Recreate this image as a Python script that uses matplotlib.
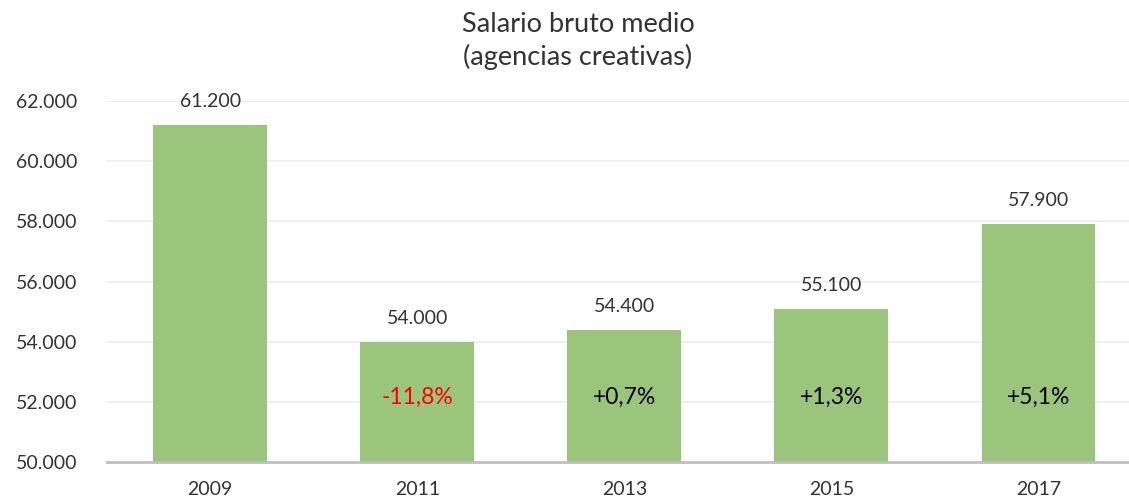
import matplotlib.pyplot as plt
import matplotlib.ticker as mticker

years = ['2009', '2011', '2013', '2015', '2017']
salario = [61200, 54000, 54400, 55100, 57900]
variacion = ['', '-11,8%', '+0,7%', '+1,3%', '+5,1%']
var_colors = ['black', '#ff0000', 'black', 'black', 'black']

plt.rcParams['font.family'] = ['Lato', 'DejaVu Sans']

fig = plt.figure(figsize=(11.29, 5.01), dpi=100)
ax = fig.add_axes([0.0945, 0.078, 0.917, 0.720])

x = range(len(years))
ax.bar(x, salario, width=0.55, color='#9bc47c', zorder=2)

for i, v in enumerate(salario):
    label = '{:,}'.format(v).replace(',', '.')
    ax.annotate(label, (i, v), xytext=(0, 17), textcoords='offset points',
                ha='center', va='center', fontsize=14, color='#333333')
    if variacion[i]:
        ax.text(i, 52150, variacion[i], ha='center', va='center',
                fontsize=16.5, color=var_colors[i], zorder=3)

ax.set_ylim(50000, 62000)
ax.set_xlim(-0.5, len(years) - 0.5)
ax.yaxis.set_major_locator(mticker.MultipleLocator(2000))
ax.yaxis.set_major_formatter(mticker.FuncFormatter(lambda v, p: '{:,.0f}'.format(v).replace(',', '.')))
ax.set_xticks(list(x))
ax.set_xticklabels(years)
ax.tick_params(axis='both', length=0, labelsize=14, colors='#333333')
ax.tick_params(axis='x', pad=14)
ax.tick_params(axis='y', pad=21)

ax.grid(axis='y', color='#ececec', linewidth=1.2, zorder=0)
for s in ['top', 'right', 'left']:
    ax.spines[s].set_visible(False)
ax.spines['bottom'].set_color('#bfbfbf')
ax.spines['bottom'].set_linewidth(2)
ax.spines['bottom'].set_zorder(3)

fig.text(0.512, 0.952, 'Salario bruto medio', ha='center', va='center', fontsize=19.5, color='#333333')
fig.text(0.512, 0.886, '(agencias creativas)', ha='center', va='center', fontsize=19.5, color='#333333')

fig.savefig('out.png', dpi=100)
